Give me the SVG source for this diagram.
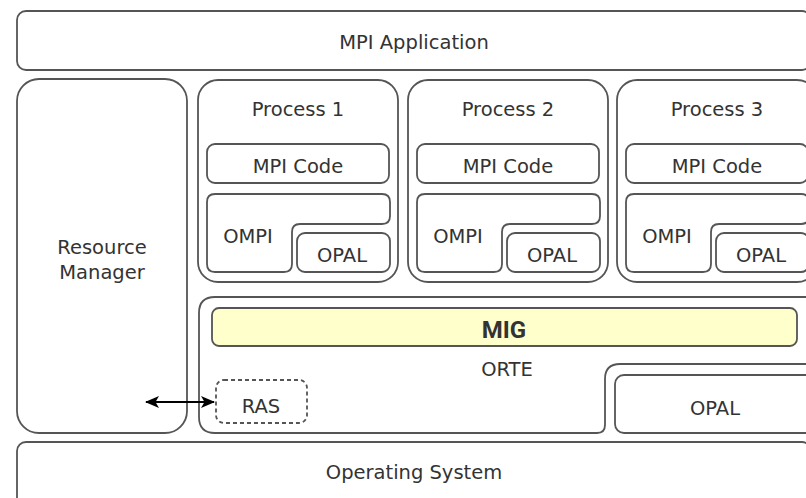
<svg xmlns="http://www.w3.org/2000/svg" width="806" height="498" viewBox="0 0 806 498">
<defs>
<style>
.b{fill:#fff;stroke:#555;stroke-width:1.8}
.t{font-family:"DejaVu Sans",sans-serif;font-size:19.5px;fill:#333;text-anchor:middle}
.mig{fill:#ffffcc;stroke:#555;stroke-width:1.8}
.migt{font-family:Roboto,sans-serif;font-weight:bold;font-size:24px;fill:#333;text-anchor:middle}
.dash{fill:#fff;stroke:#555;stroke-width:1.8;stroke-dasharray:4 3}
.arr{stroke:#000;stroke-width:2.2;fill:none}
</style>
<marker id="ah" viewBox="0 0 14 12" refX="13" refY="6" markerWidth="14" markerHeight="12" markerUnits="userSpaceOnUse" orient="auto-start-reverse">
<path d="M0,0 L14,6 L0,12 L3.5,6 Z" fill="#000"/>
</marker>
<g id="proc">
<rect class="b" x="198" y="80" width="200" height="202" rx="20"/>
<rect class="b" x="207" y="144" width="182" height="39" rx="8"/>
<path class="b" d="M215,194 H382 Q390,194 390,202 V216 Q390,224 382,224 H300 Q292,224 292,232 V264 Q292,272 284,272 H215 Q207,272 207,264 V202 Q207,194 215,194 Z"/>
<rect class="b" x="297" y="233" width="93" height="39" rx="8"/>
</g>
</defs>

<g id="mpi-application">
<rect class="b" x="17" y="11" width="794" height="59" rx="9"/>
<text class="t" x="414" y="49">MPI Application</text>
</g>

<g id="resource-manager">
<rect class="b" x="17" y="79" width="170" height="354" rx="22"/>
<text class="t" x="102" y="254">Resource</text>
<text class="t" x="102" y="279">Manager</text>
</g>

<g id="process-1">
<use href="#proc"/>
<text class="t" x="298" y="116">Process 1</text>
<text class="t" x="298" y="173">MPI Code</text>
<text class="t" x="248" y="243">OMPI</text>
<text class="t" x="342" y="262">OPAL</text>
</g>

<g id="process-2">
<use href="#proc" transform="translate(210,0)"/>
<text class="t" x="508" y="116">Process 2</text>
<text class="t" x="508" y="173">MPI Code</text>
<text class="t" x="458" y="243">OMPI</text>
<text class="t" x="552" y="262">OPAL</text>
</g>

<g id="process-3">
<use href="#proc" transform="translate(419,0)"/>
<text class="t" x="717" y="116">Process 3</text>
<text class="t" x="717" y="173">MPI Code</text>
<text class="t" x="667" y="243">OMPI</text>
<text class="t" x="761" y="262">OPAL</text>
</g>

<g id="orte">
<path class="b" d="M215,297 H830 V364 H620 Q605,364 605,379 V425 Q605,433 597,433 H215 Q199,433 199,417 V313 Q199,297 215,297 Z"/>
<text class="t" x="507" y="376">ORTE</text>
</g>

<g id="mig">
<rect class="mig" x="212" y="308" width="585" height="38" rx="7"/>
<text class="migt" x="504" y="338">MIG</text>
</g>

<g id="ras">
<rect class="dash" x="216" y="380" width="91" height="43" rx="8"/>
<text class="t" x="261" y="413">RAS</text>
</g>

<g id="orte-opal">
<rect class="b" x="615" y="375" width="210" height="58" rx="9"/>
<text class="t" x="715" y="415">OPAL</text>
</g>

<g id="operating-system">
<rect class="b" x="17" y="442" width="794" height="66" rx="9"/>
<text class="t" x="414" y="479">Operating System</text>
</g>

<g id="connectors">
<line class="arr" x1="146" y1="402" x2="214" y2="402" marker-start="url(#ah)" marker-end="url(#ah)"/>
</g>
</svg>
